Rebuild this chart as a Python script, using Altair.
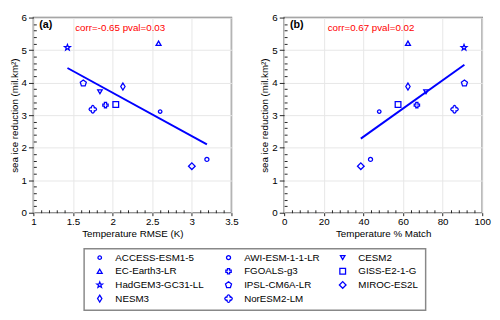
import math
import altair as alt
import pandas as pd

# ---------------- data ----------------
models = ["ACCESS-ESM1-5", "AWI-ESM-1-1-LR", "CESM2", "EC-Earth3-LR", "FGOALS-g3",
          "GISS-E2-1-G", "HadGEM3-GC31-LL", "IPSL-CM6A-LR", "MIROC-ES2L", "NESM3",
          "NorESM2-LM"]
rmse = [2.60, 3.19, 1.84, 2.58, 1.91, 2.04, 1.43, 1.63, 3.00, 2.13, 1.75]
match = [48.0, 43.6, 71.6, 62.5, 67.0, 57.5, 90.8, 91.0, 38.7, 62.5, 86.0]
reduction = [3.11, 1.64, 3.72, 5.21, 3.31, 3.33, 5.08, 3.98, 1.43, 3.88, 3.18]

fit_a_x = [1.43, 3.19]
fit_a_y = [4.45, 2.10]
fit_b_x = [38.7, 91.0]
fit_b_y = [2.28, 4.55]

label_a = "corr=-0.65  pval=0.03"
label_b = "corr=0.67  pval=0.02"

x_ticks_a = [1, 1.5, 2, 2.5, 3, 3.5]
x_ticks_b = [0, 20, 40, 60, 80, 100]
y_ticks = [0, 1, 2, 3, 4, 5, 6]

# ---------------- marker styles ----------------
def star_path(r_out=1.0, r_in=0.42):
    pts = []
    for i in range(10):
        r = r_out if i % 2 == 0 else r_in
        a = -math.pi / 2 + i * math.pi / 5
        pts.append(f"{r*math.cos(a):.3f},{r*math.sin(a):.3f}")
    return "M" + " L".join(pts) + " Z"

def poly_path(n, r=1.0):
    pts = []
    for i in range(n):
        a = -math.pi / 2 + i * 2 * math.pi / n
        pts.append(f"{r*math.cos(a):.3f},{r*math.sin(a):.3f}")
    return "M" + " L".join(pts) + " Z"

quatrefoil = ("M-0.3,-0.3 A0.42,0.42 0 1 1 0.3,-0.3 A0.42,0.42 0 1 1 0.3,0.3 "
              "A0.42,0.42 0 1 1 -0.3,0.3 A0.42,0.42 0 1 1 -0.3,-0.3 Z")
narrow_diamond = "M0,-1 L0.62,0 L0,1 L-0.62,0 Z"

shapes = ["circle", "circle", "triangle-down", "triangle-up", "cross", "square",
          star_path(), poly_path(5), "diamond", narrow_diamond, quatrefoil]
sizes = [13, 55, 48, 58, 48, 42, 65, 50, 95, 85, 50]

BLUE = "#0000ff"
FONT = "Liberation Sans"

df_a = pd.DataFrame({"model": models, "x": rmse, "y": reduction})
df_b = pd.DataFrame({"model": models, "x": match, "y": reduction})

# legend grid: 3 columns, filled row by row in list order
df_leg = pd.DataFrame({"model": models,
                       "col": [i % 3 for i in range(len(models))],
                       "row": [i // 3 for i in range(len(models))]})

shape_enc = alt.Shape("model:N", scale=alt.Scale(domain=models, range=shapes),
                      legend=None)
size_enc = alt.Size("model:N", scale=alt.Scale(domain=models, range=sizes),
                    legend=None)

W, H = 203, 200


def minor(lo, hi, step, major_step):
    vals = []
    n = int(round((hi - lo) / step))
    for i in range(n + 1):
        v = round(lo + i * step, 6)
        if abs(v / major_step - round(v / major_step)) > 1e-6:
            vals.append(v)
    return vals


def panel(df, fx, fy, xdom, xticks, xfmt, xminor, xtitle, tag, note, note_x):
    xs = alt.Scale(domain=xdom, nice=False, zero=False)
    ys = alt.Scale(domain=[0, 6], nice=False)
    common = dict(grid=True, gridColor="#e6e6e6", tickColor="#222",
                  domain=False, labelFontSize=10, titleFontSize=10, labelFont=FONT,
                  titleFont=FONT, titleFontWeight="normal", labelColor="black",
                  titleColor="black", labelFlush=False)
    major_x = alt.Axis(values=xticks, title=xtitle, tickSize=3, labelPadding=1,
                       titlePadding=2, orient="bottom", format=xfmt, **common)
    major_y = alt.Axis(values=y_ticks, title="sea ice reduction (mil.km²)",
                       tickSize=5, labelPadding=2, titlePadding=2, orient="left",
                       format="d", **common)
    pts = alt.Chart(df).mark_point(filled=False, strokeWidth=1.3, color=BLUE,
                                   opacity=1).encode(
        x=alt.X("x:Q", scale=xs, axis=major_x),
        y=alt.Y("y:Q", scale=ys, axis=major_y),
        shape=shape_enc,
        size=size_enc,
    )
    minor_layer = alt.Chart(df).mark_point(opacity=0).encode(
        x=alt.X("x:Q", scale=xs, title=None,
                axis=alt.Axis(values=xminor, labels=False, grid=False, domain=False,
                              tickSize=3, tickColor="#222", offset=-3,
                              orient="bottom")),
        y=alt.Y("y:Q", scale=ys, title=None,
                axis=alt.Axis(values=minor(0, 6, 0.2, 1), labels=False, grid=False,
                              domain=False, tickSize=3, tickColor="#222",
                              offset=-3, orient="left")),
    )
    fit = alt.Chart(pd.DataFrame({"x": fx, "y": fy})).mark_line(
        color=BLUE, strokeWidth=2).encode(
        x=alt.X("x:Q", scale=xs, axis=None),
        y=alt.Y("y:Q", scale=ys, axis=None),
    )
    tag_layer = alt.Chart(pd.DataFrame({"t": [tag]})).mark_text(
        font=FONT, fontSize=11, fontWeight="bold", color="black", align="left",
        baseline="middle").encode(
        x=alt.value(6), y=alt.value(8), text="t:N")
    note_layer = alt.Chart(pd.DataFrame({"t": [note]})).mark_text(
        font=FONT, fontSize=10, color="#ff0000", align="center",
        baseline="middle").encode(
        x=alt.value(note_x), y=alt.value(11), text="t:N")
    return alt.layer(minor_layer, pts, fit, tag_layer, note_layer).resolve_axis(
        x="independent", y="independent").properties(width=W, height=H)


pa = panel(df_a, fit_a_x, fit_a_y, [1, 3.5], x_ticks_a, ".1~f",
           minor(1, 3.5, 0.1, 0.5), "Temperature RMSE (K)", "(a)", label_a, 89)
pb = panel(df_b, fit_b_x, fit_b_y, [0, 100], x_ticks_b, "d",
           minor(0, 100, 4, 20), "Temperature % Match", "(b)", label_b, 89)

# ---------------- legend box (drawn with marks) ----------------
leg_x = alt.Scale(domain=[0, 1, 2], range=[68, 200, 317])
leg_y = alt.Scale(domain=[0, 3], range=[9, 51])
leg_frame = alt.Chart(pd.DataFrame({"k": [0]})).mark_rect(
    fill="white", fillOpacity=0, stroke="#888888", strokeWidth=1.5).encode(
    x=alt.value(52), x2=alt.value(402), y=alt.value(0), y2=alt.value(63))
leg_sym = alt.Chart(df_leg).mark_point(filled=False, strokeWidth=1.3,
                                       color=BLUE, opacity=1).encode(
    x=alt.X("col:Q", scale=leg_x, axis=None),
    y=alt.Y("row:Q", scale=leg_y, axis=None),
    shape=shape_enc,
    size=size_enc,
)
leg_txt = alt.Chart(df_leg).mark_text(font=FONT, fontSize=10, color="black",
                                      align="left", baseline="middle",
                                      dx=16).encode(
    x=alt.X("col:Q", scale=leg_x, axis=None),
    y=alt.Y("row:Q", scale=leg_y, axis=None),
    text="model:N",
)
legend_box = alt.layer(leg_frame, leg_sym, leg_txt).properties(
    width=402, height=63, view=alt.ViewBackground(stroke="transparent"))

chart = alt.vconcat(
    alt.hconcat(pa, pb, spacing=20), legend_box, spacing=8
).properties(
    padding={"left": 0, "top": 0, "right": 0, "bottom": 0}
).configure_view(
    stroke="#777777", strokeWidth=1.5
)

chart.save("out.html", embed_options={"renderer": "svg", "actions": False})
